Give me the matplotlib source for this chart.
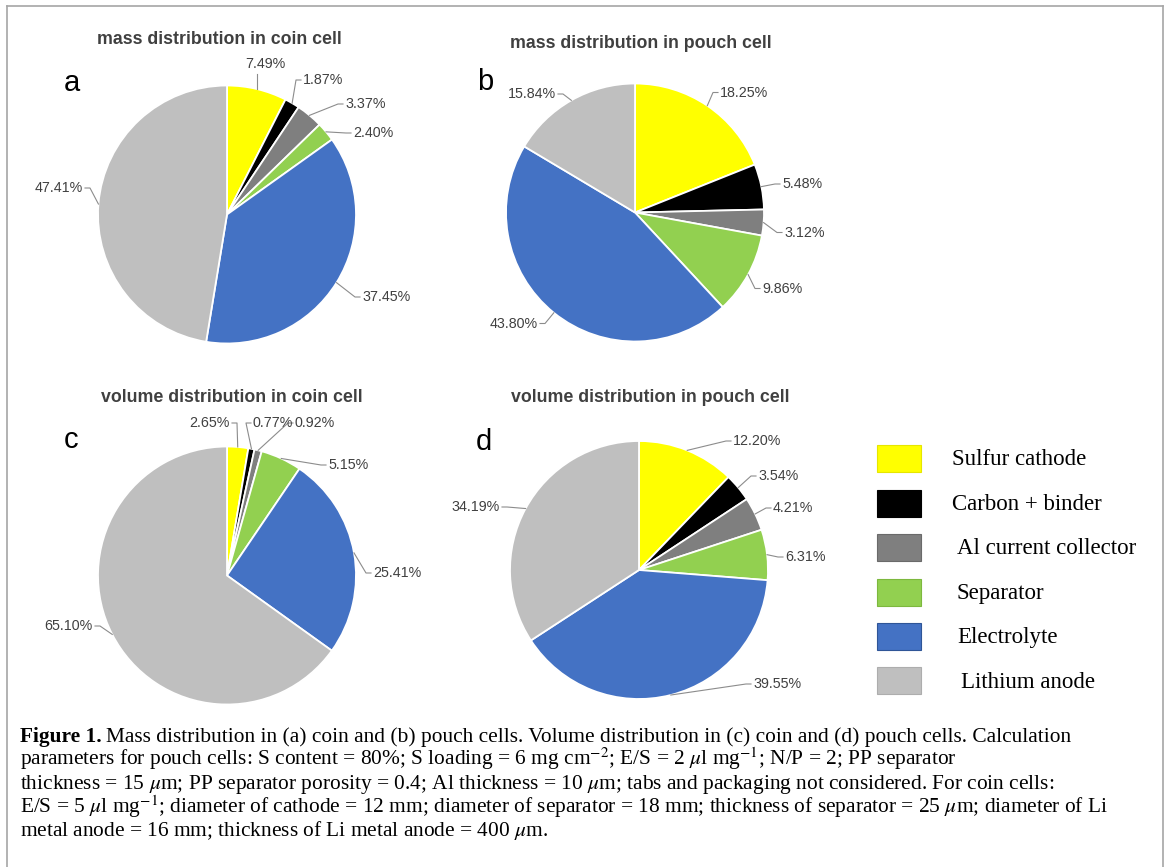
import numpy as np
import matplotlib
matplotlib.use('Agg')
import matplotlib.pyplot as plt
from matplotlib.patches import Rectangle
from matplotlib.lines import Line2D

plt.rcParams['mathtext.fontset'] = 'stix'

W, H = 1170, 867

# data (percent)
components = ['Sulfur cathode', 'Carbon + binder', 'Al current collector',
              'Separator', 'Electrolyte', 'Lithium anode']
colors = ['#FFFF00', '#000000', '#7F7F7F', '#92D050', '#4472C4', '#BFBFBF']
legend_edges = ['#E6E600', '#000000', '#6A6A6A', '#7DB83E', '#2F5597', '#ADADAD']

mass_coin = [7.49, 1.87, 3.37, 2.40, 37.45, 47.41]
mass_pouch = [18.25, 5.48, 3.12, 9.86, 43.80, 15.84]
volume_coin = [2.65, 0.77, 0.92, 5.15, 25.41, 65.10]
volume_pouch = [12.20, 3.54, 4.21, 6.31, 39.55, 34.19]

titles = ['mass distribution in coin cell', 'mass distribution in pouch cell',
          'volume distribution in coin cell', 'volume distribution in pouch cell']
letters = ['a', 'b', 'c', 'd']

caption_bold = 'Figure 1.'
caption_lines = [
    'Mass distribution in (a) coin and (b) pouch cells. Volume distribution in (c) coin and (d) pouch cells. Calculation',
    'parameters for pouch cells: S content = 80%; S loading = 6 mg cm$^{-2}$; E/S = 2 $\\mu$l mg$^{-1}$; N/P = 2; PP separator',
    'thickness = 15 $\\mu$m; PP separator porosity = 0.4; Al thickness = 10 $\\mu$m; tabs and packaging not considered. For coin cells:',
    'E/S = 5 $\\mu$l mg$^{-1}$; diameter of cathode = 12 mm; diameter of separator = 18 mm; thickness of separator = 25 $\\mu$m; diameter of Li',
    'metal anode = 16 mm; thickness of Li metal anode = 400 $\\mu$m.',
]

# layout in pixels: pie centre, title centre, panel letter, label placement (ha, dx, dy)
R = 129
panels = [
    dict(vals=mass_coin, c=(227, 214.5), t=(219, 40), l=(72, 83),
         labs=[('center', 38, 151), ('left', 76, 134.5), ('left', 118, 110.5),
               ('left', 126, 81.5), ('left', 135, -82.5), ('right', -144, 26.5)]),
    dict(vals=mass_pouch, c=(635, 212.5), t=(641, 43), l=(485, 82),
         labs=[('left', 85, 120), ('left', 147, 28.5), ('left', 149, -20),
               ('left', 127, -76), ('right', -97, -111), ('right', -79, 118.5)]),
    dict(vals=volume_coin, c=(227, 575.5), t=(232, 398), l=(71, 440),
         labs=[('right', 3, 152.5), ('left', 26, 152.5), ('left', 68, 152.5),
               ('left', 101, 110.5), ('left', 146, 2.5), ('right', -134, -50.5)]),
    dict(vals=volume_pouch, c=(639, 570), t=(650, 398), l=(484, 442),
         labs=[('left', 94, 129), ('left', 119, 94), ('left', 134, 62),
               ('left', 146, 13), ('left', 114, -114), ('right', -139, 63)]),
]

fig = plt.figure(figsize=(W / 100, H / 100), dpi=100)
fig.patch.set_facecolor('white')

txt_col = '#404040'
line_col = '#8C8C8C'

for p, title, letter in zip(panels, titles, letters):
    cx, cy = p['c']
    ax = fig.add_axes([(cx - R) / W, 1 - (cy + R) / H, 2 * R / W, 2 * R / H])
    vals = p['vals']
    ax.pie(vals, colors=colors, startangle=90, counterclock=False, radius=1,
           wedgeprops=dict(edgecolor='white', linewidth=1.3))
    ax.set_xlim(-1, 1)
    ax.set_ylim(-1, 1)
    ax.set_aspect('equal')
    ax.axis('off')

    cum = np.cumsum([0] + vals[:-1])
    tot = sum(vals)
    for v, start, (ha, dx, dy) in zip(vals, cum, p['labs']):
        ang = np.deg2rad(90 - (start + v / 2) / tot * 360)
        ex, ey = np.cos(ang), np.sin(ang)
        tx, ty = dx / R, dy / R
        if ha == 'center':
            xs, ys = [ex, ex], [ey, ty - 10 / R]
        elif ha == 'left':
            xs, ys = [ex, tx - 7 / R, tx - 2 / R], [ey, ty, ty]
        else:
            xs, ys = [ex, tx + 7 / R, tx + 2 / R], [ey, ty, ty]
        ax.plot(xs, ys, color=line_col, lw=0.8, clip_on=False)
        ax.text(tx, ty, f'{v:.2f}%', ha=ha, va='center', fontsize=10.3,
                color=txt_col, family='Liberation Sans')

    fig.text(p['t'][0] / W, 1 - p['t'][1] / H, title, ha='center', va='center',
             fontsize=12.8, fontweight='bold', color=txt_col, family='Liberation Sans')
    fig.text(p['l'][0] / W, 1 - p['l'][1] / H, letter, ha='center', va='center',
             fontsize=21, color='black', family='Liberation Sans')

# legend
leg_y = [458, 503, 547, 592, 636, 680]
leg_tx = [952, 952, 957, 957, 957, 961]
for name, col, ec, y, tx in zip(components, colors, legend_edges, leg_y, leg_tx):
    fig.add_artist(Rectangle((877 / W, 1 - (y + 13.5) / H), 44 / W, 27 / H,
                             transform=fig.transFigure, facecolor=col,
                             edgecolor=ec, linewidth=0.8))
    fig.text(tx / W, 1 - (y + 2) / H, name, ha='left', va='center',
             fontsize=16.5, color='black', family='Liberation Serif')

# caption
rend = fig.canvas.get_renderer()
probe = fig.text(0, 0, caption_lines[3], fontsize=10, family='Liberation Serif')
w10 = probe.get_window_extent(rend).width
probe.remove()
cap_size = 10 * 1090 / w10

base_y = [742, 765.5, 789, 812.5, 836]
for i, (line, by) in enumerate(zip(caption_lines, base_y)):
    x0 = 20
    if i == 0:
        b = fig.text(x0 / W, 1 - by / H, caption_bold, ha='left', va='baseline',
                     fontsize=cap_size, fontweight='bold', family='Liberation Serif')
        x0 += b.get_window_extent(rend).width + cap_size * 0.3
    fig.text(x0 / W, 1 - by / H, line, ha='left', va='baseline',
             fontsize=cap_size, family='Liberation Serif')

# outer frame
fc = '#A6A6A6'
fig.add_artist(Line2D([7 / W, 7 / W], [0, 1 - 6 / H], transform=fig.transFigure, color=fc, lw=1.2))
fig.add_artist(Line2D([1163 / W, 1163 / W], [0, 1 - 6 / H], transform=fig.transFigure, color=fc, lw=1.2))
fig.add_artist(Line2D([7 / W, 1163 / W], [1 - 6 / H, 1 - 6 / H], transform=fig.transFigure, color=fc, lw=1.2))

fig.savefig('out.png', dpi=100)
